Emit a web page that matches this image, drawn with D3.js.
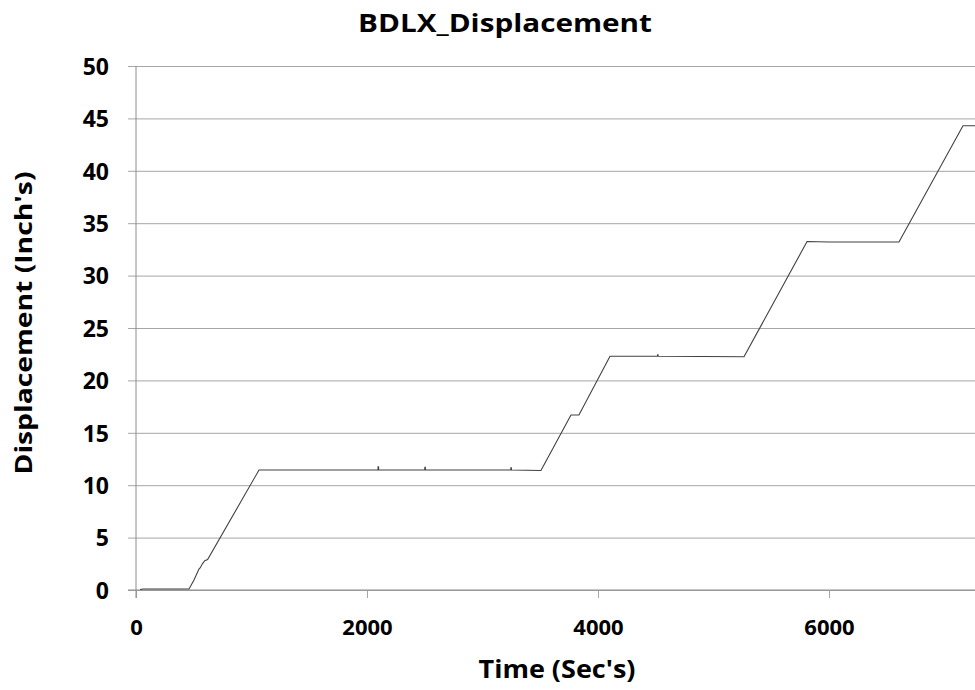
<!DOCTYPE html>
<html><head><meta charset="utf-8">
<script src="https://cdn.jsdelivr.net/npm/d3@7"></script>
<style>
body{margin:0;background:#fff;}
text{font-family:"Open Sans",Lato,sans-serif;font-weight:bold;}
</style></head>
<body><svg id="c" width="975" height="690"></svg>
<script>
const title = "BDLX_Displacement";
const xLabel = "Time (Sec's)";
const yLabel = "Displacement (Inch's)";
const xTicks = [0, 2000, 4000, 6000];
const yTicks = [0, 5, 10, 15, 20, 25, 30, 35, 40, 45, 50];
const times = [35, 60, 459, 500, 545, 555, 575, 595, 620, 1065,
  1700, 2095, 2096, 2100, 2101, 2500, 2501, 2505, 2506, 2560, 3245, 3246, 3250, 3251, 3506,
  3766, 3835, 4104, 4500, 4515, 4516, 4520, 4521, 5264, 5810, 6000, 6606, 7160, 7300];
const disp = [0.05, 0.1, 0.1, 0.9, 2.0, 2.1, 2.5, 2.8, 2.9, 11.45,
  11.45, 11.45, 11.75, 11.75, 11.45, 11.45, 11.7, 11.7, 11.45, 11.45, 11.45, 11.65, 11.65, 11.45, 11.4,
  16.7, 16.7, 22.3, 22.3, 22.3, 22.45, 22.45, 22.3, 22.25, 33.25, 33.2, 33.2, 44.3, 44.3];

const svg = d3.select("#c");
const x = d3.scaleLinear().domain([0, 8000]).range([136, 1060]);
const y = d3.scaleLinear().domain([0, 50]).range([590, 66]);
const grid = "#a6a6a6";

// horizontal gridlines + y ticks
svg.append("g").attr("transform","translate(136,0)")
  .call(d3.axisLeft(y).tickValues(yTicks).tickFormat(d3.format("d")).tickSize(-924).tickSizeOuter(0))
  .call(g=>g.select(".domain").remove())
  .call(g=>g.selectAll(".tick line").attr("stroke",grid).attr("x1",-8))
  .call(g=>g.selectAll(".tick text").attr("font-size",23).attr("fill","#000").attr("x",-27).attr("dy","0.36em"));

// vertical gridlines + x ticks
svg.append("g").attr("transform","translate(0,590)")
  .call(d3.axisBottom(x).tickValues(xTicks).tickFormat(d3.format("d")).tickSize(-524).tickSizeOuter(0))
  .call(g=>g.select(".domain").remove())
  .call(g=>g.selectAll(".tick line").attr("stroke",grid).attr("y2",8))
  .call(g=>g.selectAll(".tick text").attr("font-size",22).attr("fill","#000").attr("y",45).attr("dy",0));

// axis lines
svg.append("line").attr("x1",128).attr("x2",1060).attr("y1",590).attr("y2",590).attr("stroke","#8c8c8c");
svg.append("line").attr("x1",136).attr("x2",136).attr("y1",66).attr("y2",598).attr("stroke","#8c8c8c");

const pts = times.map((t,i)=>[t, disp[i]]);
svg.append("path").datum(pts)
  .attr("fill","none").attr("stroke","#404040").attr("stroke-width",1.1)
  .attr("d", d3.line().x(d=>x(d[0])).y(d=>y(d[1])));

svg.append("text").attr("x",505).attr("y",32).attr("text-anchor","middle").attr("font-size",25)
  .attr("textLength",294).attr("lengthAdjust","spacingAndGlyphs").text(title);
svg.append("text").attr("x",557).attr("y",678).attr("text-anchor","middle").attr("font-size",25)
  .attr("textLength",157).attr("lengthAdjust","spacingAndGlyphs").text(xLabel);
svg.append("text").attr("transform","translate(32,323) rotate(-90)").attr("text-anchor","middle").attr("font-size",24)
  .attr("textLength",303).attr("lengthAdjust","spacingAndGlyphs").text(yLabel);
</script></body></html>
